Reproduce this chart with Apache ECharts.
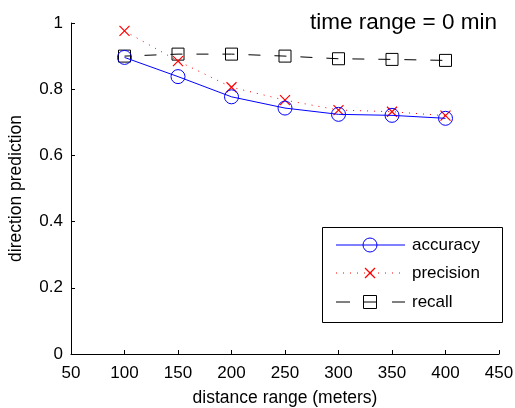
<!DOCTYPE html>
<html>
<head>
<meta charset="utf-8">
<script src="https://cdn.jsdelivr.net/npm/echarts@6/dist/echarts.min.js"></script>
<style>
  html, body { margin: 0; padding: 0; background: #fff; }
  #chart { width: 515px; height: 408px; }
</style>
</head>
<body>
<div id="chart"></div>
<script>
// distance range in meters
const distances = [100, 150, 200, 250, 300, 350, 400];
const accuracy = [0.896, 0.838, 0.777, 0.743, 0.724, 0.721, 0.712];
const precision = [0.976, 0.885, 0.806, 0.767, 0.737, 0.732, 0.720];
const recall = [0.900, 0.906, 0.906, 0.900, 0.892, 0.890, 0.887];
const seriesNames = ['accuracy', 'precision', 'recall'];

const pairs = vals => distances.map((d, i) => [d, vals[i]]);

const font = 'Liberation Sans, Arial, sans-serif';
const blue = '#0000ff', red = '#ff0000', black = '#000';
const chart = echarts.init(document.getElementById('chart'), null, { renderer: 'canvas' });

// legend box drawn by hand (matlab style: line - marker - line)
const lx0 = 336, lx1 = 405, lmid = 370, rows = [245, 273, 302];
const seg = (x1, y, x2, stroke, dash) => ({
    type: 'line', shape: { x1: x1, y1: y, x2: x2, y2: y },
    style: { stroke: stroke, lineWidth: 1, lineDash: dash || null }
});
const legendItems = [
    { type: 'rect', shape: { x: 322.5, y: 227.5, width: 180, height: 95 }, style: { fill: '#fff', stroke: black, lineWidth: 1 } },
    seg(lx0, rows[0], lx1, blue),
    { type: 'circle', shape: { cx: lmid, cy: rows[0], r: 7 }, style: { fill: 'none', stroke: blue, lineWidth: 1 } },
    seg(lx0, rows[1], lx1, red, [1, 6]),
    { type: 'polyline', shape: { points: [[lmid - 5, rows[1] - 5], [lmid + 5, rows[1] + 5]] }, style: { stroke: red, lineWidth: 1.2 } },
    { type: 'polyline', shape: { points: [[lmid + 5, rows[1] - 5], [lmid - 5, rows[1] + 5]] }, style: { stroke: red, lineWidth: 1.2 } },
    seg(lx0, rows[2], 350, black),
    seg(392, rows[2], lx1, black),
    seg(363, rows[2], 377, black),
    { type: 'rect', shape: { x: 363.5, y: rows[2] - 6.5, width: 13, height: 13 }, style: { fill: 'none', stroke: black, lineWidth: 1 } }
];
seriesNames.forEach((n, i) => legendItems.push({
    type: 'text', x: 412, y: rows[i],
    style: { text: n, font: '17px ' + font, fill: black, verticalAlign: 'middle' }
}));

chart.setOption({
    animation: false,
    textStyle: { fontFamily: font },
    title: {
        text: 'time range = 0 min',
        right: 13,
        top: 6,
        textStyle: { fontFamily: font, fontSize: 22.5, fontWeight: 'normal', color: '#000' }
    },
    grid: { left: 71, right: 16, top: 23, bottom: 54, outerBoundsMode: 'none', containLabel: false },
    xAxis: {
        type: 'value',
        min: 50, max: 450, interval: 50,
        name: 'distance range (meters)',
        nameLocation: 'middle',
        nameGap: 35,
        nameTextStyle: { fontSize: 17.5, color: '#000' },
        axisLine: { lineStyle: { color: '#000' } },
        axisTick: { inside: true, length: 4, lineStyle: { color: '#000' } },
        axisLabel: { fontSize: 17, color: '#000', margin: 11 },
        splitLine: { show: false }
    },
    yAxis: {
        type: 'value',
        min: 0, max: 1, interval: 0.2,
        name: 'direction prediction',
        nameLocation: 'middle',
        nameGap: 46,
        nameTextStyle: { fontSize: 17.5, color: '#000' },
        axisLine: { show: true, lineStyle: { color: '#000' } },
        axisTick: { show: true, inside: true, length: 4, lineStyle: { color: '#000' } },
        axisLabel: { fontSize: 17, color: '#000', margin: 8, formatter: v => String(+v.toFixed(1)) },
        splitLine: { show: false }
    },
    graphic: [{ type: 'group', z: 100, children: legendItems }],
    series: [
        {
            name: seriesNames[0],
            type: 'line',
            data: pairs(accuracy),
            symbol: 'circle',
            symbolSize: 14,
            lineStyle: { color: blue, width: 1 },
            itemStyle: { color: 'none', borderColor: blue, borderWidth: 1 },
            z: 3
        },
        {
            name: seriesNames[1],
            type: 'line',
            data: pairs(precision),
            symbol: 'path://M0,0L10,10M10,0L0,10',
            symbolSize: 10,
            lineStyle: { color: red, width: 1, type: [1, 6] },
            itemStyle: { color: 'none', borderColor: red, borderWidth: 1.2 },
            z: 2
        },
        {
            name: seriesNames[2],
            type: 'line',
            data: pairs(recall),
            symbol: 'rect',
            symbolSize: 12,
            lineStyle: { color: black, width: 1, type: [12, 14], dashOffset: 6 },
            itemStyle: { color: 'none', borderColor: black, borderWidth: 1 },
            z: 1
        }
    ]
});
</script>
</body>
</html>
